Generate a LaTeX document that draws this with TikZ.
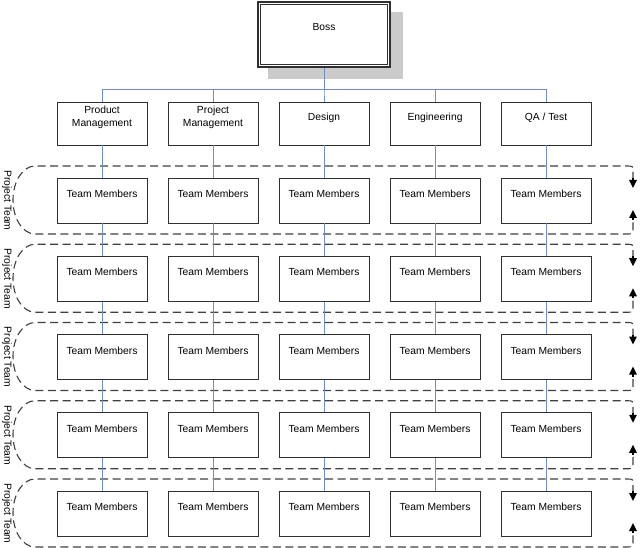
\documentclass[tikz,border=0pt]{standalone}
\usepackage{fontspec}
\setmainfont{Liberation Sans}
\usetikzlibrary{arrows.meta}
\definecolor{connblue}{HTML}{6F8FC4}
\definecolor{boxline}{HTML}{303030}
\definecolor{dashline}{HTML}{404040}
\definecolor{shadowgray}{HTML}{CBCBCB}
\tikzset{
  box/.style={draw=boxline, line width=0.9pt, fill=white, minimum width=90pt, inner sep=0pt},
  lbl/.style={font=\fontsize{10.3}{12.8}\selectfont, align=center, text=black, inner sep=0pt},
  conn/.style={draw=connblue, line width=1pt},
  band/.style={draw=dashline, line width=1.1pt, dash pattern=on 8pt off 4.5pt},
  tip/.style={draw=black, line width=1.1pt, -{Triangle[length=8pt,width=7.5pt,fill=black]}},
}
\begin{document}
\begin{tikzpicture}[x=1pt,y=-1pt]
\useasboundingbox (0,0) rectangle (640,548);
% shadow and boss
\fill[shadowgray] (268,12) rectangle (403,79);
\node[draw=boxline, line width=1.6pt, fill=white, minimum width=132pt, minimum height=65pt, inner sep=0pt] (boss) at (324,34.5) {};
\draw[boxline, line width=0.8pt] ([shift={(3pt,3pt)}]boss.south west) rectangle ([shift={(-3pt,-3pt)}]boss.north east);
\node[lbl] (bosstext) at ([yshift=7.5pt]boss.center) {Boss};
\coordinate (bus) at (324,90);
% departments
\foreach \i/\x/\t in {1/102/{Product\\Management},2/213/{Project\\Management},3/324/{Design},4/435/{Engineering},5/546/{QA / Test}}{
  \node[box, minimum height=43pt] (d\i) at (\x,123.5) {};
  \node[lbl] (dt\i) at ([yshift=6pt]d\i.center) {\t};
  \draw[conn] (boss.south) -- (boss.south |- bus) -| (d\i.north);
}
% bands
\foreach \k in {1,...,5}{
  \pgfmathsetmacro{\top}{166+78.25*(\k-1)}
  \pgfmathsetmacro{\bot}{\top+68}
  \pgfmathsetmacro{\mid}{\top+34.5}
  \draw[band] (633,\top+14) -- (633,\top+6) .. controls (633,\top) .. (627,\top)
     -- (35,\top) arc[start angle=90, end angle=270, x radius=22pt, y radius=34pt]
     -- (627,\bot) .. controls (633,\bot) .. (633,\bot-6) -- (633,\bot-16);
  \coordinate (ta\k) at (633,\top+12);
  \coordinate (tb\k) at (633,\top+22);
  \coordinate (ba\k) at (633,\bot-14);
  \coordinate (bb\k) at (633,\bot-24);
  \draw[tip] (ta\k) -- (tb\k);
  \draw[tip] (ba\k) -- (bb\k);
  \node[lbl, rotate=-90] (pt\k) at (7,\mid) {Project Team};
}
% team members
\foreach \i/\x in {1/102,2/213,3/324,4/435,5/546}{
  \foreach \k in {1,...,5}{
    \pgfmathsetmacro{\yy}{200.5+78.25*(\k-1)}
    \node[box, minimum height=45pt] (t\i\k) at (\x,\yy) {};
    \node[lbl] (tt\i\k) at ([yshift=6.5pt]t\i\k.center) {Team Members};
  }
  \draw[conn] (d\i.south) -- (t\i1.north);
  \draw[conn] (t\i1.south) -- (t\i2.north);
  \draw[conn] (t\i2.south) -- (t\i3.north);
  \draw[conn] (t\i3.south) -- (t\i4.north);
  \draw[conn] (t\i4.south) -- (t\i5.north);
}
\end{tikzpicture}
\end{document}
